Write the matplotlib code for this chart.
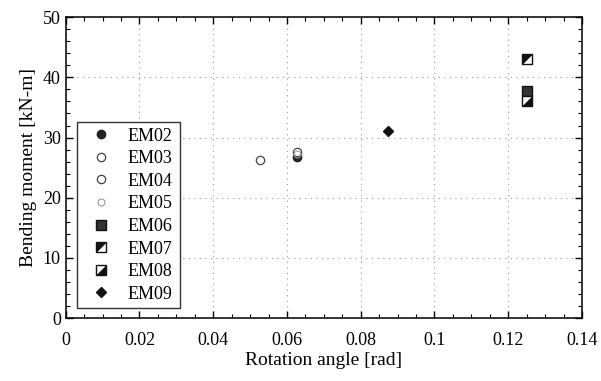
import numpy as np
import matplotlib
matplotlib.use('Agg')
import matplotlib.pyplot as plt
from matplotlib.ticker import MultipleLocator
from matplotlib.legend_handler import HandlerTuple

plt.rcParams['font.family'] = 'Liberation Serif'

# specimen results (rotation angle [rad], bending moment [kN-m])
names = ['EM02', 'EM03', 'EM04', 'EM05', 'EM06', 'EM07', 'EM08', 'EM09']
angle = [0.0627, 0.0627, 0.0527, 0.0627, 0.1251, 0.1251, 0.1251, 0.0873]
moment = [26.8, 27.6, 26.3, 27.3, 37.8, 43.1, 36.1, 31.1]

# half-filled square triangles
tri_ul = [(-1, -1), (1, 1), (-1, 1), (-1, -1)]
tri_lr = [(-1, -1), (1, -1), (1, 1), (-1, -1)]

fig = plt.figure(figsize=(6.01, 3.81), dpi=100)
ax = fig.add_axes([0.1093, 0.165, 0.859, 0.79])

handles = []
h, = ax.plot(angle[0], moment[0], 'o', ms=6, mfc='#222222', mec='#222222', ls='none')
handles.append(h)
h, = ax.plot(angle[1], moment[1], 'o', ms=6, mfc='white', mec='#444444', mew=0.9, ls='none')
handles.append(h)
h, = ax.plot(angle[2], moment[2], 'o', ms=6, mfc='white', mec='#444444', mew=0.9, ls='none')
handles.append(h)
h, = ax.plot(angle[3], moment[3], 'o', ms=5, mfc='none', mec='#999999', mew=0.8, ls='none')
handles.append(h)
h, = ax.plot(angle[4], moment[4], 's', ms=6.5, mfc='#333333', mec='#111111', ls='none')
handles.append(h)

for i, tri in [(5, tri_ul), (6, tri_lr)]:
    sq, = ax.plot(angle[i], moment[i], 's', ms=6.5, mfc='white', mec='#111111', mew=1.0, ls='none')
    tr, = ax.plot(angle[i], moment[i], marker=tri, ms=6.5, mfc='#111111', mec='#111111', mew=0.3, ls='none')
    handles.append((sq, tr))

h, = ax.plot(angle[7], moment[7], 'D', ms=5.5, mfc='#111111', mec='#111111', ls='none')
handles.append(h)

ax.set_xlim(0, 0.14)
ax.set_ylim(0, 50)
ax.xaxis.set_major_locator(MultipleLocator(0.02))
ax.xaxis.set_minor_locator(MultipleLocator(0.005))
ax.yaxis.set_major_locator(MultipleLocator(10))
ax.yaxis.set_minor_locator(MultipleLocator(2))
ax.set_xticks(np.arange(0, 0.141, 0.02))
ax.set_xticklabels(['0', '0.02', '0.04', '0.06', '0.08', '0.1', '0.12', '0.14'])
ax.tick_params(which='both', direction='in', top=True, right=True, labelsize=13)
ax.tick_params(which='major', length=5, width=1)
ax.tick_params(which='minor', length=3, width=0.8)
ax.tick_params(axis='x', pad=10)
ax.grid(which='major', ls=(0, (1, 4)), color='#999999', lw=0.8)
for s in ax.spines.values():
    s.set_linewidth(1.1)

ax.set_xlabel('Rotation angle [rad]', fontsize=14, labelpad=2)
ax.set_ylabel('Bending moment [kN-m]', fontsize=14)

leg = ax.legend(handles, names, loc='lower left', bbox_to_anchor=(0.022, 0.033, 0.199, 0.621),
                mode='expand', fontsize=13, frameon=True, fancybox=False, borderaxespad=0,
                handler_map={tuple: HandlerTuple(ndivide=1, pad=0)}, handlelength=2.0,
                labelspacing=0.31, borderpad=0.3, handletextpad=0.5)
leg.get_frame().set_edgecolor('#333333')
leg.get_frame().set_linewidth(1.0)
leg.get_frame().set_alpha(1)

plt.savefig('out.png', dpi=100)
